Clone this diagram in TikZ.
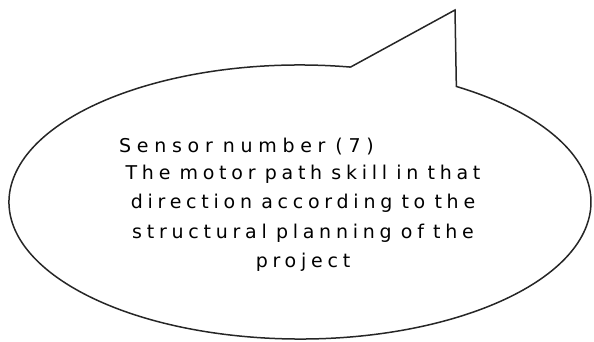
\documentclass[tikz,border=0pt]{standalone}
\usepackage{fontspec}
\setmainfont{DejaVu Sans}[LetterSpace=25, WordSpace=0.85]
\tikzset{
  bubble/.style={draw=black!85, line width=1.5pt, line join=miter},
  label/.style={inner sep=0pt, font=\fontsize{19}{29.3}\selectfont},
}
\begin{document}
\begin{tikzpicture}[x=1pt,y=1pt]
\useasboundingbox (0,0) rectangle (594,341);
\coordinate (notch) at ({300+291*cos(80)},{139+137*sin(80)});
\coordinate (tip) at (455,331);
\draw[bubble] (notch) arc[start angle=80, end angle=417.5, x radius=291pt, y radius=137pt] -- (tip) -- (notch);
\node[label, anchor=base west] (title) at (119,189) {\addfontfeature{LetterSpace=30}Sensor number (7)};
\node[label, anchor=north, align=center] (body) at (303,176) {The motor path skill in that\\direction according to the\\structural planning of the\\project};
\end{tikzpicture}
\end{document}
